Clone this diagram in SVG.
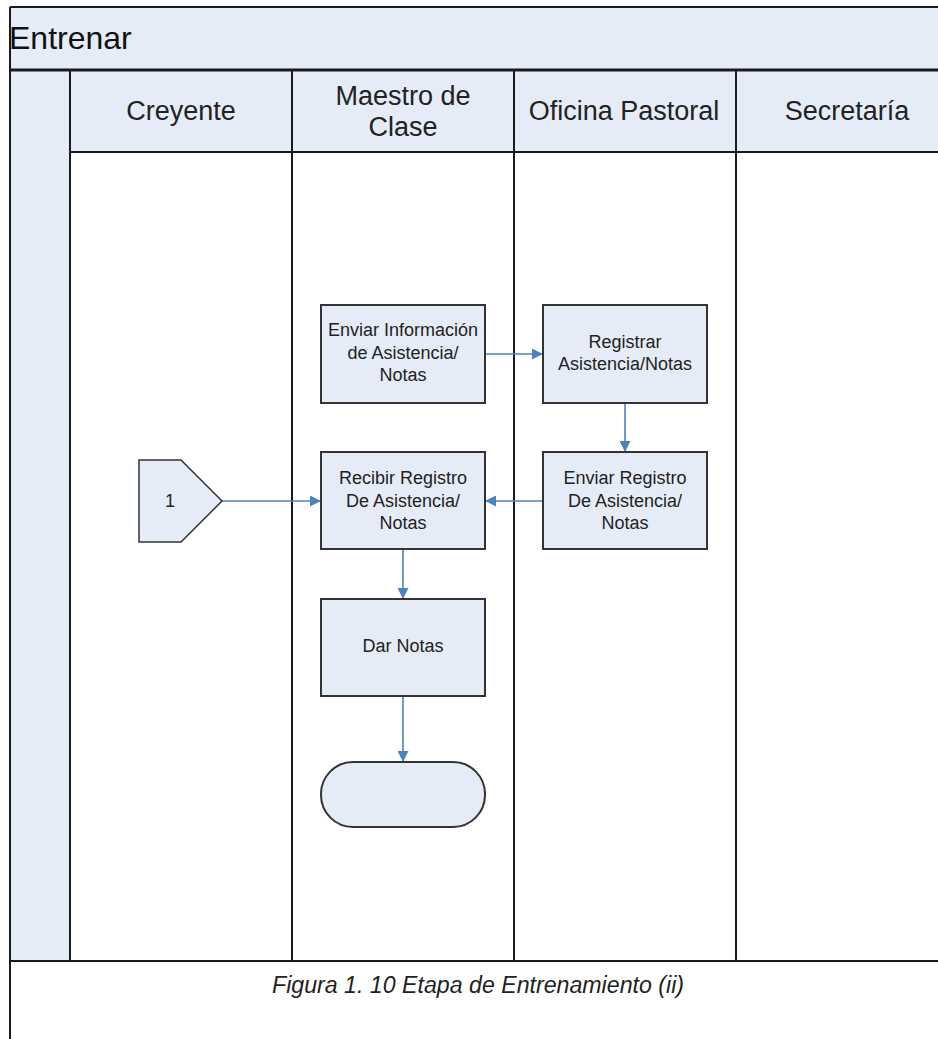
<svg xmlns="http://www.w3.org/2000/svg" width="938" height="1039" viewBox="0 0 938 1039">
<style>
.band{fill:#E6ECF7;stroke:none}
.ln{stroke:#1a1a1a;stroke-width:2;fill:none}
.box{fill:#E6ECF7;stroke:#333;stroke-width:2}
.t{font-family:"Liberation Sans",Arial,sans-serif;fill:#222;text-anchor:middle}
.n{font-size:18px}
.h{font-size:27px}
.c{stroke:#4F81BD;stroke-width:1.6;fill:none;marker-end:url(#ah)}
</style>
<defs>
<marker id="ah" viewBox="0 0 10 10" refX="10" refY="5" markerWidth="11" markerHeight="11" markerUnits="userSpaceOnUse" orient="auto">
<path d="M0,0 L10,5 L0,10 z" fill="#4F81BD"/>
</marker>
</defs>
<rect x="0" y="0" width="938" height="1039" fill="#fff"/>
<g id="pool">
<rect class="band" x="10" y="7" width="928" height="63"/>
<rect class="band" x="10" y="70" width="60" height="891"/>
<rect class="band" x="70" y="70" width="868" height="82"/>
<line class="ln" x1="10" y1="7" x2="938" y2="7"/>
<line class="ln" x1="10" y1="7" x2="10" y2="1039"/>
<line class="ln" x1="10" y1="70" x2="938" y2="70" style="stroke-width:3"/>
<line class="ln" x1="70" y1="152" x2="938" y2="152"/>
<line class="ln" x1="70" y1="70" x2="70" y2="961"/>
<line class="ln" x1="292" y1="70" x2="292" y2="961"/>
<line class="ln" x1="514" y1="70" x2="514" y2="961"/>
<line class="ln" x1="736" y1="70" x2="736" y2="961"/>
<line class="ln" x1="10" y1="961" x2="938" y2="961"/>
<text x="9" y="49" style="font-family:'Liberation Sans',Arial,sans-serif;font-size:32px;fill:#111">Entrenar</text>
<text class="t h" x="181" y="120">Creyente</text>
<text class="t h" x="403" y="105">Maestro de</text>
<text class="t h" x="403" y="136">Clase</text>
<text class="t h" x="624" y="120">Oficina Pastoral</text>
<text class="t h" x="847" y="120">Secretaría</text>
<text class="t" x="478" y="993" textLength="412" lengthAdjust="spacingAndGlyphs" style="font-size:23px;font-style:italic">Figura 1. 10 Etapa de Entrenamiento (ii)</text>
</g>
<g id="connectors">
<line class="c" x1="485" y1="354" x2="543" y2="354"/>
<line class="c" x1="625" y1="403" x2="625" y2="452"/>
<line class="c" x1="543" y1="501" x2="485" y2="501"/>
<line class="c" x1="222" y1="501" x2="321" y2="501"/>
<line class="c" x1="403" y1="549" x2="403" y2="599"/>
<line class="c" x1="403" y1="696" x2="403" y2="762"/>
</g>
<g id="n_enviar_info">
<rect class="box" x="321" y="305" width="164" height="98"/>
<text class="t n" x="403" y="336">Enviar Información</text>
<text class="t n" x="403" y="359">de Asistencia/</text>
<text class="t n" x="403" y="381">Notas</text>
</g>
<g id="n_registrar">
<rect class="box" x="543" y="305" width="164" height="98"/>
<text class="t n" x="625" y="348">Registrar</text>
<text class="t n" x="625" y="370">Asistencia/Notas</text>
</g>
<g id="n_recibir">
<rect class="box" x="321" y="452" width="164" height="97"/>
<text class="t n" x="403" y="484">Recibir Registro</text>
<text class="t n" x="403" y="507">De Asistencia/</text>
<text class="t n" x="403" y="529">Notas</text>
</g>
<g id="n_enviar_reg">
<rect class="box" x="543" y="452" width="164" height="97"/>
<text class="t n" x="625" y="484">Enviar Registro</text>
<text class="t n" x="625" y="507">De Asistencia/</text>
<text class="t n" x="625" y="529">Notas</text>
</g>
<g id="n_dar_notas">
<rect class="box" x="321" y="599" width="164" height="97"/>
<text class="t n" x="403" y="652">Dar Notas</text>
</g>
<g id="n_fin">
<rect class="box" x="321" y="762" width="164" height="65" rx="32" ry="32"/>
</g>
<g id="n_conn1">
<polygon class="box" points="139,460 181,460 222,501 181,542 139,542" style="stroke-width:1.5"/>
<text class="t n" x="170" y="507">1</text>
</g>
</svg>
